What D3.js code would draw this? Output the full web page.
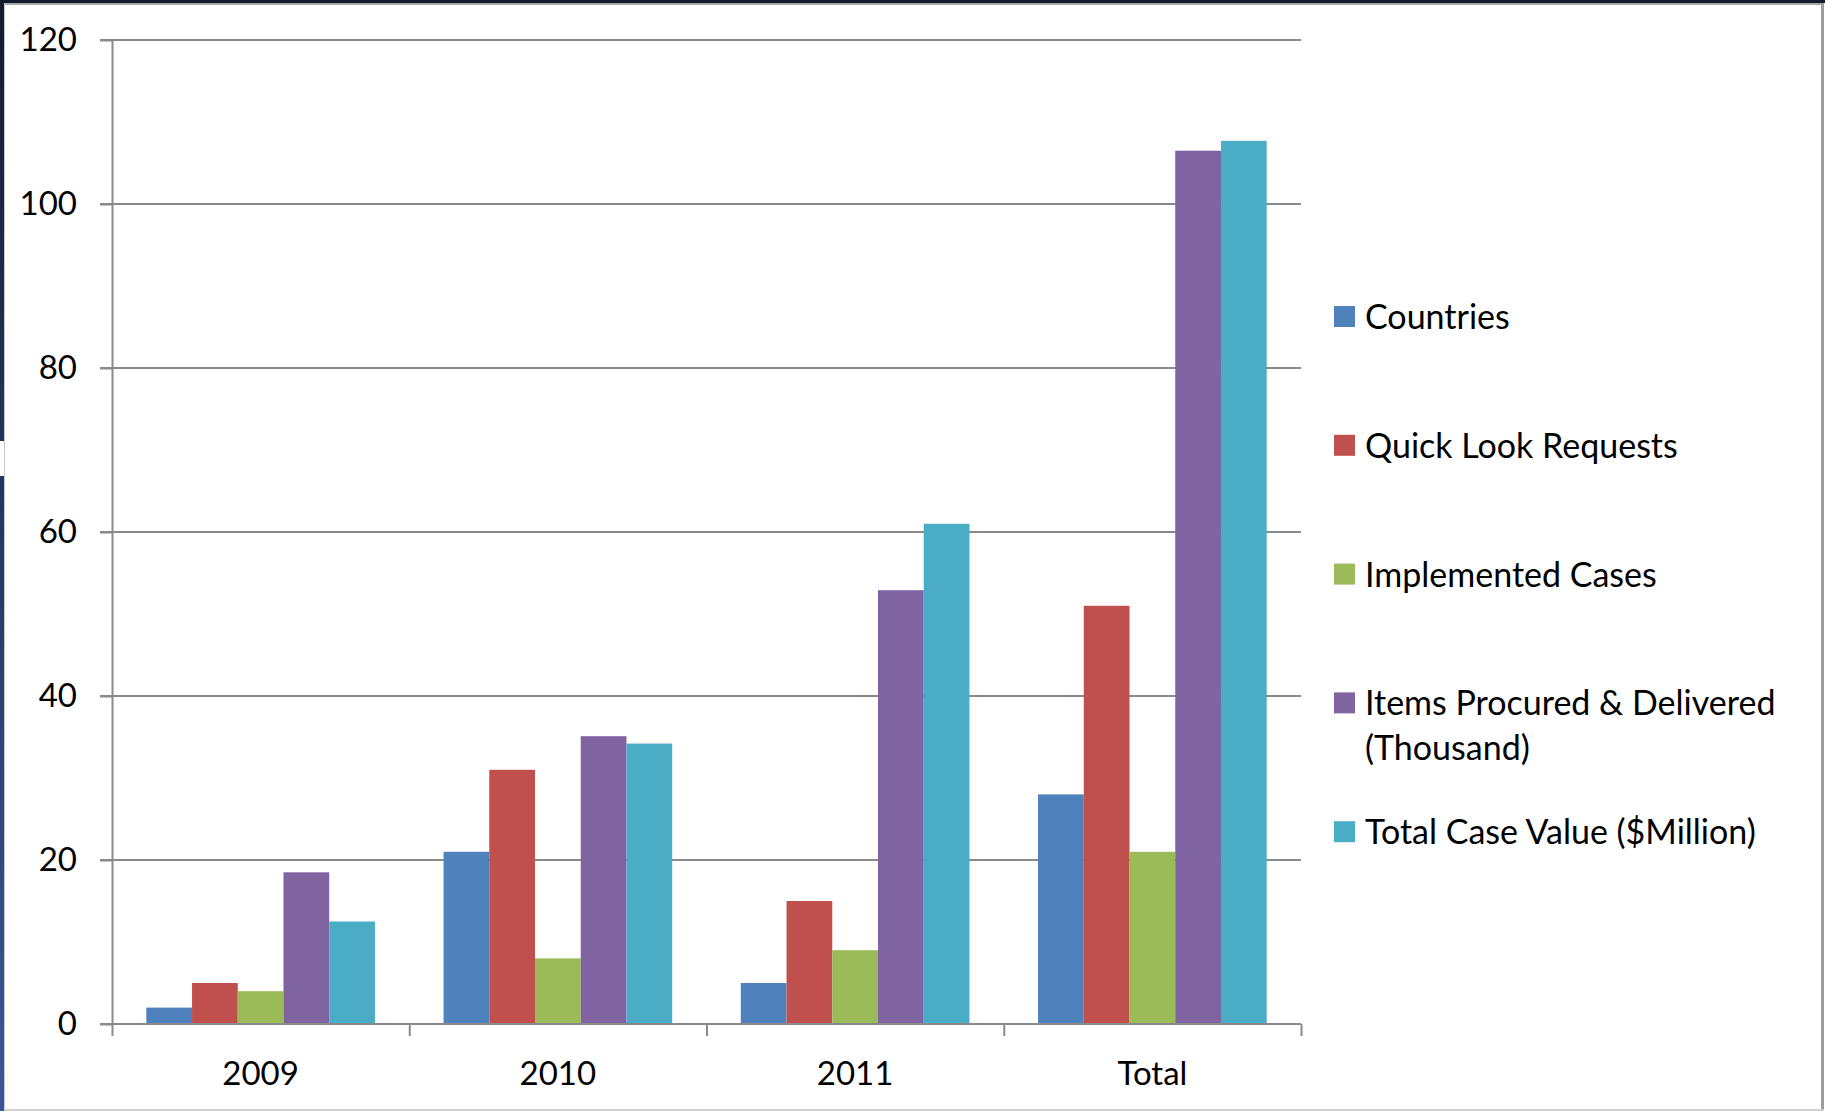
<!DOCTYPE html>
<html>
<head>
<meta charset="utf-8">
<script src="https://cdn.jsdelivr.net/npm/d3@7"></script>
<style>
  body { margin: 0; background: #fff; }
  svg { display: block; }
  text { font-family: Lato, "Open Sans", sans-serif; fill: #000; }
  .grid line { stroke: #8a8a8a; stroke-width: 2; }
  .axis path, .axis line { stroke: #8a8a8a; stroke-width: 2; }
</style>
</head>
<body>
<div class="container"></div>
<script>
const WIDTH = 1825;
const HEIGHT = 1111;

const PLOT_LEFT = 112;
const PLOT_RIGHT = 1301;
const PLOT_TOP = 40;
const PLOT_BOTTOM = 1024;

var categories = ['2009', '2010', '2011', 'Total'];
var seriesNames = [
  'Countries',
  'Quick Look Requests',
  'Implemented Cases',
  'Items Procured & Delivered (Thousand)',
  'Total Case Value ($Million)'
];
var seriesColors = ['#4f81bd', '#c0504d', '#9bbb59', '#8064a2', '#4bacc6'];

var countries = [2, 21, 5, 28];
var quickLook = [5, 31, 15, 51];
var implemented = [4, 8, 9, 21];
var itemsProcured = [18.5, 35.1, 52.9, 106.5];
var caseValue = [12.5, 34.2, 61, 107.7];

var yTicks = [0, 20, 40, 60, 80, 100, 120];

var translate = function(x, y){
  return 'translate(' + x + ',' + y + ')';
};

var drawFrame = function (svg) {
  var defs = svg.append('defs');
  var grad = defs.append('linearGradient')
    .attr('id', 'leftEdge')
    .attr('x1', 0).attr('y1', 0).attr('x2', 0).attr('y2', 1);
  grad.append('stop').attr('offset', '0%').attr('stop-color', '#131b31');
  grad.append('stop').attr('offset', '100%').attr('stop-color', '#3b579b');

  svg.append('rect').attr('width', WIDTH).attr('height', HEIGHT).attr('fill', '#fff');
  svg.append('rect').attr('x', 0).attr('y', 0).attr('width', WIDTH).attr('height', 3).attr('fill', '#131b31');
  svg.append('rect').attr('x', 0).attr('y', 0).attr('width', 4).attr('height', HEIGHT).attr('fill', 'url(#leftEdge)');
  svg.append('rect').attr('x', 0).attr('y', 441).attr('width', 4).attr('height', 35).attr('fill', '#fff');
  svg.append('rect').attr('x', 4).attr('y', 3).attr('width', 1820).attr('height', 2).attr('fill', '#a8a8a8');
  svg.append('rect').attr('x', 4).attr('y', 3).attr('width', 1).attr('height', 1108).attr('fill', '#c8c8c8');
  svg.append('rect').attr('x', 1821).attr('y', 3).attr('width', 3).attr('height', 1108).attr('fill', '#9c9c9c');
  svg.append('rect').attr('x', 4).attr('y', 1109).attr('width', 1820).attr('height', 2).attr('fill', '#d0d0d0');
};

var createChart = function () {
  var svg = d3.select('.container').append('svg')
    .attr('width', WIDTH)
    .attr('height', HEIGHT);

  drawFrame(svg);

  var values = [countries, quickLook, implemented, itemsProcured, caseValue];

  var yScale = d3.scaleLinear()
    .domain([0, 120])
    .range([PLOT_BOTTOM, PLOT_TOP]);

  // gap width 150% -> inner padding 1.5 / 6.5 of a step
  var x0 = d3.scaleBand()
    .domain(categories)
    .range([PLOT_LEFT, PLOT_RIGHT])
    .paddingInner(1.5 / 6.5)
    .paddingOuter(0.75 / 6.5);

  var x1 = d3.scaleBand()
    .domain(d3.range(seriesNames.length))
    .range([0, x0.bandwidth()]);

  var edges = d3.scaleLinear()
    .domain([0, categories.length])
    .range([PLOT_LEFT, PLOT_RIGHT]);

  // gridlines with the left tick stubs
  svg.append('g')
    .classed('grid', true)
    .selectAll('line')
    .data(yTicks.slice(1))
    .enter().append('line')
    .attr('x1', PLOT_LEFT - 12)
    .attr('x2', PLOT_RIGHT)
    .attr('y1', function(d){ return yScale(d); })
    .attr('y2', function(d){ return yScale(d); });

  var yAxis = d3.axisLeft(yScale)
    .tickValues(yTicks)
    .tickSize(12)
    .tickSizeOuter(0)
    .tickPadding(23);

  var gy = svg.append('g')
    .classed('axis', true)
    .attr('transform', translate(PLOT_LEFT, 0))
    .call(yAxis);
  gy.selectAll('text')
    .style('font-size', '33px')
    .style('font-family', 'Lato, sans-serif')
    .attr('fill', '#000');

  // bars
  var groups = svg.append('g').selectAll('g')
    .data(categories)
    .enter().append('g')
    .attr('transform', function(d){ return translate(x0(d), 0); });

  groups.selectAll('rect')
    .data(function(d, i){
      return values.map(function(s, j){ return {series: j, value: s[i]}; });
    })
    .enter().append('rect')
    .attr('x', function(d){ return x1(d.series); })
    .attr('width', x1.bandwidth())
    .attr('y', function(d){ return yScale(d.value); })
    .attr('height', function(d){ return yScale(0) - yScale(d.value); })
    .attr('fill', function(d){ return seriesColors[d.series]; });

  // x axis: ticks on the category edges, labels in the middle
  var xAxis = d3.axisBottom(edges)
    .ticks(categories.length)
    .tickSize(12)
    .tickSizeOuter(0)
    .tickFormat('');

  var gx = svg.append('g')
    .classed('axis', true)
    .attr('transform', translate(0, PLOT_BOTTOM))
    .call(xAxis);
  gx.select('.domain').attr('d', 'M' + (PLOT_LEFT - 12) + ',0H' + PLOT_RIGHT);

  svg.append('g').selectAll('text')
    .data(categories)
    .enter().append('text')
    .attr('x', function(d){ return x0(d) + x0.bandwidth() / 2; })
    .attr('y', 1085)
    .attr('text-anchor', 'middle')
    .style('font-size', '33px')
    .text(function(d){ return d; });

  drawLegend(svg);
};

var drawLegend = function (svg) {
  var legend = svg.append('g').attr('transform', translate(1334, 317));

  var items = legend.selectAll('g')
    .data(seriesNames)
    .enter().append('g')
    .attr('transform', function(d, i){ return translate(0, i * 128.8); });

  items.append('rect')
    .attr('x', 0)
    .attr('y', -11)
    .attr('width', 21)
    .attr('height', 21)
    .attr('fill', function(d, i){ return seriesColors[i]; });

  items.append('text')
    .attr('x', 31)
    .attr('y', 12)
    .style('font-size', '34px')
    .each(function(d){ wrap(d3.select(this), d, 440); });
};

var wrap = function (textSel, str, maxWidth) {
  var words = str.split(' ');
  var line = [];
  var tspan = textSel.append('tspan').attr('x', 31).attr('dy', 0);
  words.forEach(function(w){
    line.push(w);
    tspan.text(line.join(' '));
    if (tspan.node().getComputedTextLength() > maxWidth && line.length > 1) {
      line.pop();
      tspan.text(line.join(' '));
      line = [w];
      tspan = textSel.append('tspan').attr('x', 31).attr('dy', 45).text(w);
    }
  });
};

window.onload = createChart;
</script>
</body>
</html>
